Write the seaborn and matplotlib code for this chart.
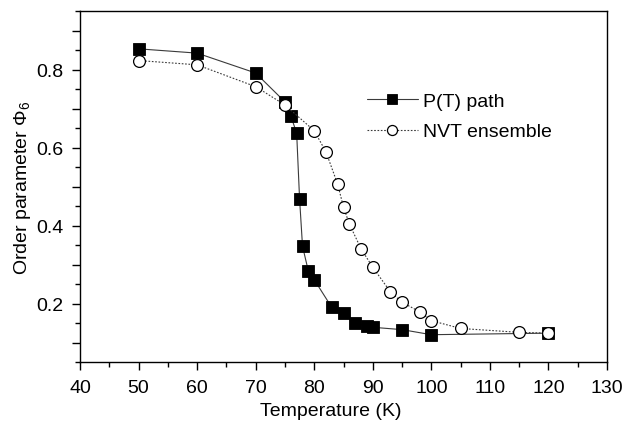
import matplotlib
matplotlib.use("Agg")
import matplotlib.pyplot as plt
from matplotlib.ticker import MultipleLocator, FuncFormatter
import seaborn as sns
import pandas as pd

# P(T) path
pt_temp = [50, 60, 70, 75, 76, 77, 77.5, 78, 79, 80, 83, 85, 87, 89, 90, 95, 100, 120]
pt_phi = [0.853, 0.842, 0.791, 0.717, 0.681, 0.637, 0.468, 0.347, 0.283, 0.261,
          0.190, 0.176, 0.150, 0.143, 0.139, 0.133, 0.120, 0.124]

# NVT ensemble
nvt_temp = [50, 60, 70, 75, 80, 82, 84, 85, 86, 88, 90, 93, 95, 98, 100, 105, 115, 120]
nvt_phi = [0.823, 0.812, 0.756, 0.709, 0.643, 0.589, 0.506, 0.447, 0.404, 0.340,
           0.293, 0.230, 0.203, 0.179, 0.156, 0.136, 0.126, 0.124]

series_names = ["P(T) path", "NVT ensemble"]

sns.set_theme(style="ticks")
plt.rcParams["font.family"] = ["Liberation Sans", "DejaVu Sans"]
plt.rcParams["mathtext.fontset"] = "custom"
plt.rcParams["mathtext.rm"] = "Liberation Sans"
plt.rcParams["mathtext.it"] = "Liberation Sans"
plt.rcParams["text.color"] = "black"
plt.rcParams["axes.labelcolor"] = "black"

FS = 14

df_pt = pd.DataFrame({"T": pt_temp, "phi": pt_phi})
df_nvt = pd.DataFrame({"T": nvt_temp, "phi": nvt_phi})

fig, ax = plt.subplots(figsize=(6.22, 4.27), dpi=100)
fig.subplots_adjust(left=80 / 622, right=607 / 622, top=1 - 12 / 427, bottom=1 - 363 / 427)

sns.lineplot(data=df_pt, x="T", y="phi", ax=ax, color="#3a3a3a", lw=0.8,
             linestyle="-", marker="s", markersize=8, markerfacecolor="black",
             markeredgecolor="black", markeredgewidth=0.6, label=series_names[0],
             sort=False, zorder=3)
sns.lineplot(data=df_nvt, x="T", y="phi", ax=ax, color="#3a3a3a", lw=0.8,
             linestyle=(0, (1.5, 1.5)), marker="o", markersize=8.5, markerfacecolor="white",
             markeredgecolor="black", markeredgewidth=0.9, label=series_names[1],
             sort=False, zorder=4)

ax.set_xlim(40, 130)
ax.set_ylim(0.05, 0.95)
ax.xaxis.set_major_locator(MultipleLocator(10))
ax.xaxis.set_minor_locator(MultipleLocator(5))
ax.yaxis.set_major_locator(MultipleLocator(0.1))
ax.yaxis.set_minor_locator(MultipleLocator(0.05))


def fmt_y(v, pos):
    k = round(v * 10)
    if k % 2 == 0 and 2 <= k <= 8:
        return f"{v:.1f}"
    return ""


ax.yaxis.set_major_formatter(FuncFormatter(fmt_y))

for s in ax.spines.values():
    s.set_linewidth(1.0)
    s.set_color("black")

ax.tick_params(which="major", direction="out", length=6, width=1.0, labelsize=FS,
               colors="black", labelcolor="black", pad=6)
ax.tick_params(which="minor", direction="out", length=3.5, width=1.0, colors="black")

ax.set_xlabel("Temperature (K)", fontsize=FS, color="black")
ax.set_ylabel(r"Order parameter $\Phi_6$", fontsize=FS, color="black")
ax.xaxis.set_label_coords((331 - 80) / 527, -(403 - 363) / 351)
ax.yaxis.set_label_coords(-(80 - 33) / 527, 0.5)

leg = ax.legend(loc="upper left", bbox_to_anchor=(0.53, 0.79), frameon=False,
                fontsize=FS, handlelength=2.6, handletextpad=0.28, labelspacing=0.65,
                borderaxespad=0, markerscale=0.85, labelcolor="black")

fig.savefig("out.png", dpi=100)
